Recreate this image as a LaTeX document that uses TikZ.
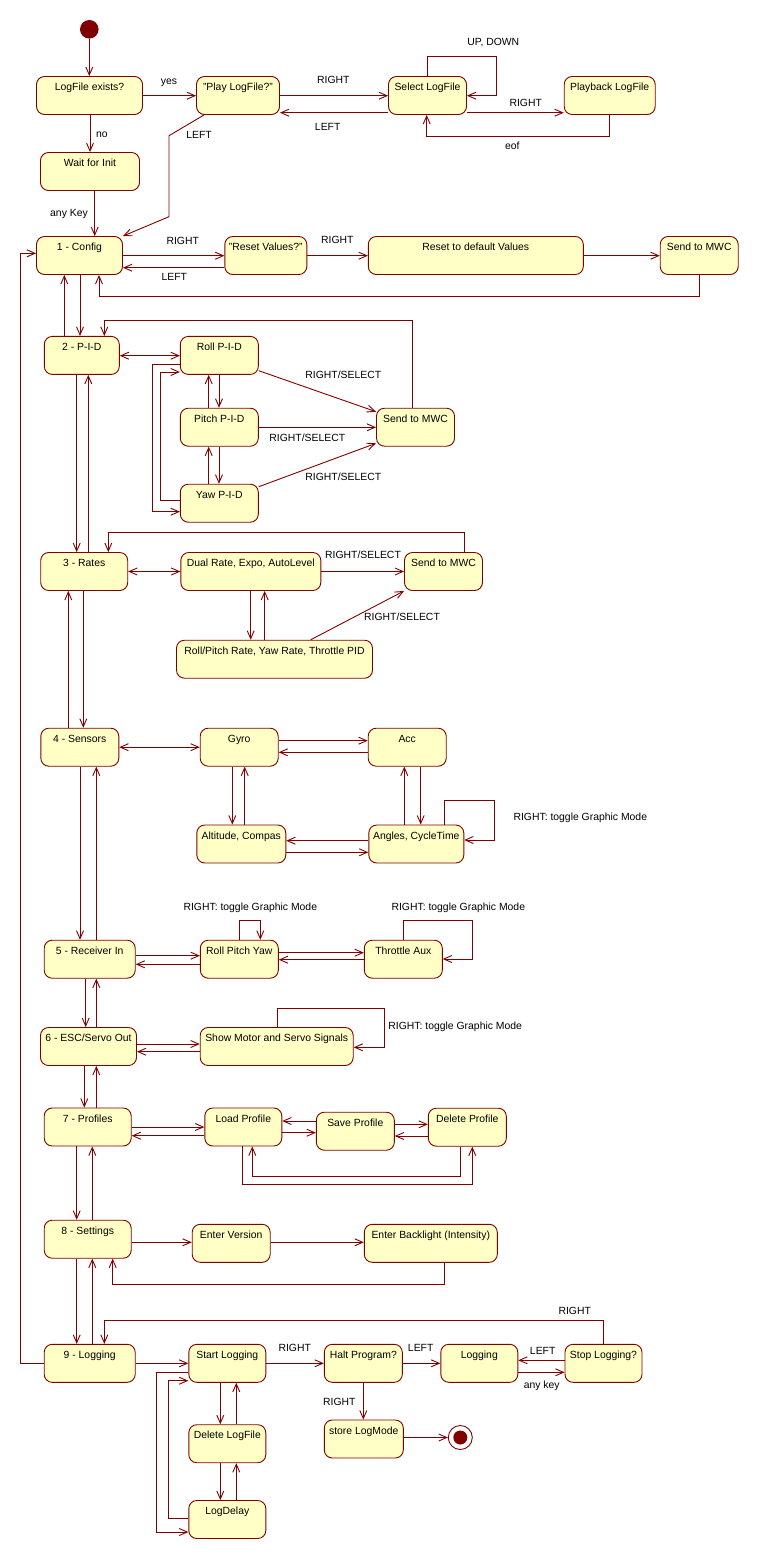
\documentclass[tikz,border=0pt]{standalone}
\usepackage{fontspec}
\setmainfont{Liberation Sans}
\usepackage{tikz}
\usetikzlibrary{arrows.meta}
\definecolor{umlred}{RGB}{128,0,0}
\definecolor{umlyellow}{RGB}{255,255,198}
\newcommand*\boxrad{8pt}
\newcommand*\uifont{\fontsize{10.4}{12}\selectfont}
\tikzset{
    >={Straight Barb[length=8pt,width=7pt]},
    state/.style      = {draw=umlred, fill=umlyellow, line width=0.9pt,
                        rounded corners=\boxrad, inner xsep=3pt, inner ysep=3pt,
                        text height=11pt, text depth=21pt, font=\uifont},
    initstate/.style  = {circle, fill=umlred, minimum size=18.6pt, inner sep=0pt},
    finalstate/.style = {circle, draw=umlred, fill=white, line width=0.9pt,
                        minimum size=24pt, inner sep=0pt,
                        path picture={\fill[umlred] (path picture bounding box.center) circle (7pt);}},
    tr/.style         = {draw=umlred, line width=0.9pt, ->},
    trboth/.style     = {draw=umlred, line width=0.9pt, <->},
    lbl/.style        = {font=\uifont, inner sep=0pt, text height=7.5pt, text depth=2.2pt},
  }

\begin{document}
\begin{tikzpicture}[x=1pt, y=-1pt]
    \useasboundingbox (0,0) rectangle (759,1559);

    % start and end
    \node[initstate]  (init)  at (89.3,29.3) {};
    \node[finalstate] (final) at (460.3,1437.5) {};

    % log file states
    \node[state, minimum width=106] (logexists) at (89.5,95.5)  {LogFile exists?};
    \node[state, minimum width=83]  (playlog)   at (238,95.5)   {"Play LogFile?"};
    \node[state, minimum width=78]  (sellog)    at (427.5,95.5) {Select LogFile};
    \node[state, minimum width=91]  (playback)  at (609.7,95.5) {Playback LogFile};
    \node[state, minimum width=99]  (waitinit)  at (90,171.5)   {Wait for Init};

    % main menu column
    \node[state, minimum width=86] (config)   at (79.5,255.5)  {1 - Config};
    \node[state, minimum width=75] (pid)      at (81.8,355.4)  {2 - P-I-D};
    \node[state, minimum width=87] (rates)    at (84.2,571.5)  {3 - Rates};
    \node[state, minimum width=78] (sensors)  at (79.8,747.2)  {4 - Sensors};
    \node[state, minimum width=91] (receiver) at (89.7,959.2)  {5 - Receiver In};
    \node[state, minimum width=96] (escout)   at (88.5,1046.5) {6 - ESC/Servo Out};
    \node[state, minimum width=87] (profiles) at (87.7,1127)   {7 - Profiles};
    \node[state, minimum width=87] (settings) at (87.7,1239.2) {8 - Settings};
    \node[state, minimum width=91] (logging9) at (89.7,1363.3) {9 - Logging};

    % 1 - config
    \node[state, minimum width=82]  (resetq)   at (265.8,255.5) {"Reset Values?"};
    \node[state, minimum width=215] (resetdef) at (475.8,255.5) {Reset to default Values};
    \node[state, minimum width=78]  (sendA)    at (699.2,255.5) {Send to MWC};

    % 2 - pid
    \node[state, minimum width=78] (rollpid)  at (219.3,355.4) {Roll P-I-D};
    \node[state, minimum width=78] (pitchpid) at (219.3,427.2) {Pitch P-I-D};
    \node[state, minimum width=78] (yawpid)   at (219.3,503.2) {Yaw P-I-D};
    \node[state, minimum width=78] (sendB)    at (415.5,427.2) {Send to MWC};

    % 3 - rates
    \node[state, minimum width=140] (dualrate) at (250.8,571.5) {Dual Rate, Expo, AutoLevel};
    \node[state, minimum width=78]  (sendC)    at (443.5,571.5) {Send to MWC};
    \node[state, minimum width=196] (rollrate) at (274.5,659.2) {Roll/Pitch Rate, Yaw Rate, Throttle PID};

    % 4 - sensors
    \node[state, minimum width=78] (gyro)     at (239.2,747.2) {Gyro};
    \node[state, minimum width=78] (acc)      at (407.2,747.2) {Acc};
    \node[state, minimum width=89] (altitude) at (241.3,844)   {Altitude, Compas};
    \node[state, minimum width=95] (angles)   at (416.3,844)   {Angles, CycleTime};

    % 5 - receiver, 6 - esc
    \node[state, minimum width=78]  (rpy)      at (239.3,959.2)  {Roll Pitch Yaw};
    \node[state, minimum width=78]  (throttle) at (403.3,959.2)  {Throttle Aux};
    \node[state, minimum width=153] (showsig)  at (276.7,1046.5) {Show Motor and Servo Signals};

    % 7 - profiles, 8 - settings
    \node[state, minimum width=77]  (loadprof)  at (243.3,1127)   {Load Profile};
    \node[state, minimum width=78]  (saveprof)  at (355.3,1131.2) {Save Profile};
    \node[state, minimum width=78]  (delprof)   at (467.3,1127.2) {Delete Profile};
    \node[state, minimum width=78]  (enterver)  at (231.2,1243.3) {Enter Version};
    \node[state, minimum width=133] (backlight) at (430.8,1243.3) {Enter Backlight (Intensity)};

    % 9 - logging
    \node[state, minimum width=77] (startlog) at (227.3,1363.3) {Start Logging};
    \node[state, minimum width=78] (haltq)    at (363.3,1363.3) {Halt Program?};
    \node[state, minimum width=77] (logging)  at (479.3,1363.3) {Logging};
    \node[state, minimum width=77] (stoplog)  at (603.5,1363.3) {Stop Logging?};
    \node[state, minimum width=79] (storelog) at (363.8,1439)   {store LogMode};
    \node[state, minimum width=77] (dellog)   at (227.3,1443.7) {Delete LogFile};
    \node[state, minimum width=77] (logdelay) at (227.3,1519.5) {LogDelay};

    % down / up pairs between stacked states
    \foreach \a/\b/\dn/\up in {config/pid/80/64.3, pid/rates/76.7/88.3,
        rates/sensors/83.3/68.3, sensors/receiver/80/96.3, receiver/escout/85.7/96.3,
        escout/profiles/84.3/96.3, profiles/settings/76.7/92.3, settings/logging9/76.7/92.3,
        rollpid/pitchpid/219/208.7, pitchpid/yawpid/219/208.7, dualrate/rollrate/250.7/264.7,
        gyro/altitude/232.3/244.7, acc/angles/420.7/404.3,
        startlog/dellog/220.3/236.3, dellog/logdelay/220.3/236.3} {
        \draw[tr] (\a.south -| \dn,0) -- (\b.north -| \dn,0);
        \draw[tr] (\b.north -| \up,0) -- (\a.south -| \up,0);
    }

    % log file transitions
    \draw[tr] (init) -- (logexists.north -| init);
    \draw[tr] (logexists.east |- 0,95.7) -- (playlog.west |- 0,95.7);
    \draw[tr] (logexists.south -| 90,0) -- (waitinit.north -| 90,0);
    \draw[tr] (waitinit.south -| 94.7,0) -- (config.north -| 94.7,0);
    \draw[tr] (playlog.east |- 0,95.7) -- (sellog.west |- 0,95.7);
    \draw[tr] (sellog.west |- 0,112.7) -- (playlog.east |- 0,112.7);
    \draw[tr] (sellog.north -| 427.3,0) |- (496.7,56.7) |- (sellog.east |- 0,95.7);
    \draw[tr] (sellog.east |- 0,112.7) -- (playback.west |- 0,112.7);
    \draw[tr] (playback.south -| 609.3,0) |- (426.7,136) -- (sellog.south -| 426.7,0);
    \draw[tr] ([xshift=8pt]playlog.south west) -- (169,135.7) -- (169,216.7) -- (config.north east);

    % config transitions
    \draw[tr] (config.east |- 0,255.7) -- (resetq.west |- 0,255.7);
    \draw[tr] (resetq.west |- 0,267.7) -- (config.east |- 0,267.7);
    \draw[tr] (resetq.east |- 0,255.7) -- (resetdef.west |- 0,255.7);
    \draw[tr] (resetdef.east |- 0,255.7) -- (sendA.west |- 0,255.7);
    \draw[tr] (sendA.south) -- (sendA.south |- 0,296) -| (config.south -| 99,0);
    \draw[tr] (logging9.west) -| (20.7,253.3) -- (config.west |- 0,253.3);

    % pid transitions
    \draw[trboth] (pid.east |- 0,355.7) -- (rollpid.west |- 0,355.7);
    \draw[tr] (rollpid.west |- 0,364) -| (152.3,511.7) -- (yawpid.west |- 0,511.7);
    \draw[tr] (yawpid.west |- 0,500.7) -| (160.3,372) -- (rollpid.west |- 0,372);
    \draw[tr] (rollpid.east |- 0,370.7) -- (sendB.west |- 0,411.7);
    \draw[tr] (pitchpid.east |- 0,427.3) -- (sendB.west |- 0,427.3);
    \draw[tr] (yawpid.east |- 0,486.7) -- (sendB.west |- 0,443.3);
    \draw[tr] (sendB.north -| 412.3,0) |- (104.3,320.7) -- (pid.north -| 104.3,0);

    % rates transitions
    \draw[trboth] (rates.east) -- (dualrate.west);
    \draw[tr] (dualrate.east) -- (sendC.west);
    \draw[tr] (rollrate.north -| 310.7,0) -- (sendC.south west);
    \draw[tr] (sendC.north -| 464.3,0) |- (108.3,532.3) -- (rates.north -| 108.3,0);

    % sensors transitions
    \draw[trboth] (sensors.east) -- (gyro.west);
    \draw[tr] (gyro.east |- 0,740.7) -- (acc.west |- 0,740.7);
    \draw[tr] (acc.west |- 0,752.3) -- (gyro.east |- 0,752.3);
    \draw[tr] (angles.west |- 0,840.7) -- (altitude.east |- 0,840.7);
    \draw[tr] (altitude.east |- 0,852.3) -- (angles.west |- 0,852.3);
    \draw[tr] (angles.north -| 444.3,0) |- (494.3,800) |- (angles.east |- 0,840);

    % receiver and esc transitions
    \draw[tr] (receiver.east |- 0,955.7) -- (rpy.west |- 0,955.7);
    \draw[tr] (rpy.west |- 0,964.3) -- (receiver.east |- 0,964.3);
    \draw[tr] (rpy.north -| 239.3,0) |- (260.3,920.3) -- (rpy.north -| 260.3,0);
    \draw[tr] (rpy.east |- 0,952.7) -- (throttle.west |- 0,952.7);
    \draw[tr] (throttle.west |- 0,959.7) -- (rpy.east |- 0,959.7);
    \draw[tr] (throttle.north -| 403.3,0) |- (472.3,920.3) |- (throttle.east |- 0,959);
    \draw[tr] (escout.east |- 0,1044) -- (showsig.west |- 0,1044);
    \draw[tr] (showsig.west |- 0,1051.7) -- (escout.east |- 0,1051.7);
    \draw[tr] (showsig.north -| 277.3,0) |- (384.7,1008.3) |- (showsig.east |- 0,1047.3);

    % profiles and settings transitions
    \draw[tr] (profiles.east |- 0,1127) -- (loadprof.west |- 0,1127);
    \draw[tr] (loadprof.west |- 0,1135.7) -- (profiles.east |- 0,1135.7);
    \draw[tr] (loadprof.east |- 0,1132.7) -- (saveprof.west |- 0,1132.7);
    \draw[tr] (saveprof.west |- 0,1121) -- (loadprof.east |- 0,1121);
    \draw[tr] (saveprof.east |- 0,1124.3) -- (delprof.west |- 0,1124.3);
    \draw[tr] (delprof.west |- 0,1136) -- (saveprof.east |- 0,1136);
    \draw[tr] (loadprof.south -| 242.3,0) |- (472.3,1184) -- (delprof.south -| 472.3,0);
    \draw[tr] (delprof.south -| 460.3,0) |- (252.3,1176.3) -- (loadprof.south -| 252.3,0);
    \draw[tr] (settings.east |- 0,1242.3) -- (enterver.west |- 0,1242.3);
    \draw[tr] (enterver.east |- 0,1242.3) -- (backlight.west |- 0,1242.3);
    \draw[tr] (backlight.south -| 444.3,0) |- (112.7,1284) -- (settings.south -| 112.7,0);

    % logging transitions
    \draw[tr] (logging9.east) -- (startlog.west);
    \draw[tr] (startlog.east) -- (haltq.west);
    \draw[tr] (haltq.east) -- (logging.west);
    \draw[tr] (stoplog.west |- 0,1360.3) -- (logging.east |- 0,1360.3);
    \draw[tr] (logging.east |- 0,1372.3) -- (stoplog.west |- 0,1372.3);
    \draw[tr] (stoplog.north -| 603.3,0) |- (104.3,1320.3) -- (logging9.north -| 104.3,0);
    \draw[tr] (haltq.south) -- (storelog.north -| haltq.south);
    \draw[tr] (storelog.east |- final) -- (final.west);
    \draw[tr] (startlog.west |- 0,1372.3) -| (156.3,1532) -- (logdelay.west |- 0,1532);
    \draw[tr] (logdelay.west |- 0,1518.3) -| (168.3,1380.7) -- (startlog.west |- 0,1380.7);

    % labels
    \node[lbl] (l-yes)      at (169,81.7)    {yes};
    \node[lbl] (l-no)       at (102,134.7)   {no};
    \node[lbl] (l-anykey)   at (69,214)      {any Key};
    \node[lbl] (l-play)     at (333.3,81.3)  {RIGHT};
    \node[lbl] (l-back)     at (327.7,128)   {LEFT};
    \node[lbl] (l-cancel)   at (199,136)     {LEFT};
    \node[lbl] (l-updown)   at (493.3,43.3)  {UP, DOWN};
    \node[lbl] (l-select)   at (525.7,104.3) {RIGHT};
    \node[lbl] (l-eof)      at (512.3,147)   {eof};
    \node[lbl] (l-reset)    at (182.7,242)   {RIGHT};
    \node[lbl] (l-noreset)  at (174.3,277.7) {LEFT};
    \node[lbl] (l-doreset)  at (337.3,241)   {RIGHT};
    \node[lbl] (l-sendroll) at (343.3,376)   {RIGHT/SELECT};
    \node[lbl] (l-sendpit)  at (307.3,439)   {RIGHT/SELECT};
    \node[lbl] (l-sendyaw)  at (343.3,478)   {RIGHT/SELECT};
    \node[lbl] (l-senddual) at (363,556)     {RIGHT/SELECT};
    \node[lbl] (l-sendrate) at (402,617.7)   {RIGHT/SELECT};
    \node[lbl] (l-angmode)  at (580.3,817.7) {RIGHT: toggle Graphic Mode};
    \node[lbl] (l-rpymode)  at (250.3,908.3) {RIGHT: toggle Graphic Mode};
    \node[lbl] (l-thrmode)  at (458.3,908.3) {RIGHT: toggle Graphic Mode};
    \node[lbl] (l-sigmode)  at (455.2,1026.7) {RIGHT: toggle Graphic Mode};
    \node[lbl] (l-stop)     at (574.7,1312)  {RIGHT};
    \node[lbl] (l-halt)     at (294.7,1349.3) {RIGHT};
    \node[lbl] (l-logleft)  at (420.7,1349.3) {LEFT};
    \node[lbl] (l-resume)   at (542.7,1352.3) {LEFT};
    \node[lbl] (l-anykey2)  at (541.7,1386)  {any key};
    \node[lbl] (l-store)    at (339.3,1402.7) {RIGHT};
\end{tikzpicture}
\end{document}
